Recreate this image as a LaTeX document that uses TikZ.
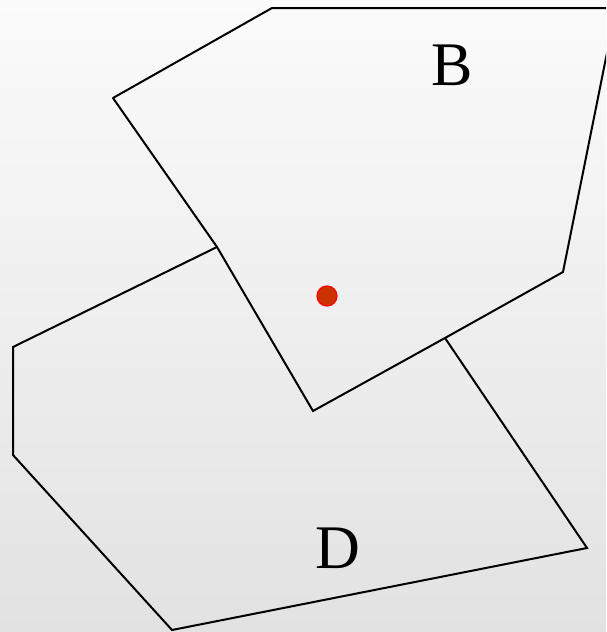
\documentclass[tikz,border=0pt]{standalone}
\usepackage{fontspec}
\setmainfont{Liberation Serif}
\usepackage{xcolor}
\usetikzlibrary{positioning}
\definecolor{bgtop}{RGB}{251,251,251}
\definecolor{bgbot}{RGB}{226,226,226}
\definecolor{dotfill}{RGB}{204,51,0}
\definecolor{dotedge}{RGB}{255,0,0}

\begin{document}
\begin{tikzpicture}[
    x=1pt, y=-1pt,
    edge/.style={draw=black, line width=2pt, line cap=round},
    regionlabel/.style={font=\fontsize{62}{66}\selectfont, inner sep=0pt},
    seed/.style={circle, fill=dotfill, draw=dotedge, line width=1.2pt,
                 minimum size=20pt, inner sep=0pt}
]
    \useasboundingbox (0,0) rectangle (606,632);
    \shade[top color=bgtop, bottom color=bgbot] (0,0) rectangle (606,632);
    \clip (0,0) rectangle (606,632);

    % region B
    \coordinate (b1) at (272,8);
    \coordinate (b2) at (616,8);
    \coordinate (b3) at (563,272);
    \coordinate (b4) at (445,338);
    \coordinate (b5) at (313,411);
    \coordinate (b6) at (217,247);
    \coordinate (b7) at (113,98);

    % region D
    \coordinate (d1) at (13,347);
    \coordinate (d2) at (13,455);
    \coordinate (d3) at (172,630);
    \coordinate (d4) at (587,548);

    \draw[edge] (b7) -- (b1) -- (b2) -- (b3) -- (b4) -- (b5) -- (b6) -- (b7);
    \draw[edge] (b6) -- (d1) -- (d2) -- (d3) -- (d4) -- (b4);

    \node[regionlabel] (labB) at (452,65) {B};
    \node[regionlabel] (labD) at (338,548) {D};
    \node[seed] (site) at (327,296) {};
\end{tikzpicture}
\end{document}
